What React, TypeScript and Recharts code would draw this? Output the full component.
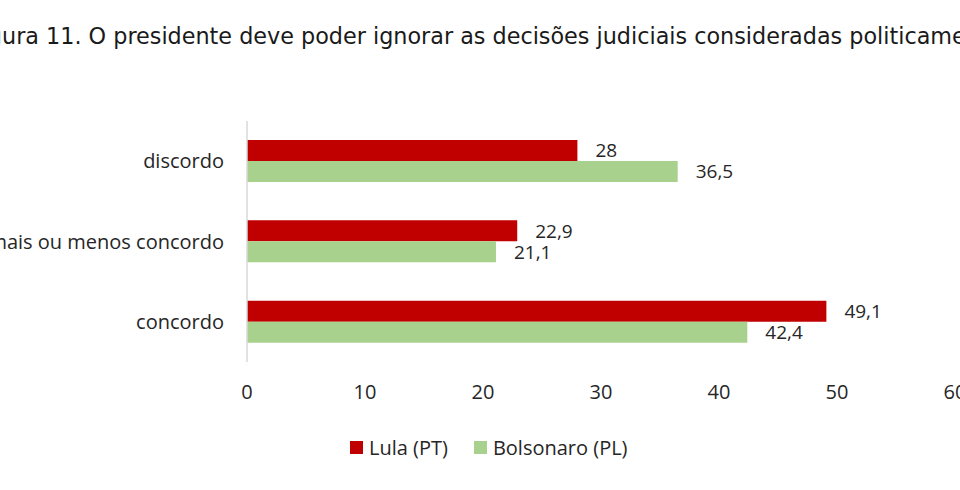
import React from 'react';
import { BarChart, Bar, XAxis, YAxis, LabelList, Legend } from 'recharts';

const categories = ['discordo', 'mais ou menos concordo', 'concordo'];
const lulaValues = [28, 22.9, 49.1];
const bolsonaroValues = [36.5, 21.1, 42.4];
const xTicks = [0, 10, 20, 30, 40, 50, 60];
const seriesNames = ['Lula (PT)', 'Bolsonaro (PL)'];
const titleHidden = 'Fig';
const titleVisible = 'ura 11. O presidente deve poder ignorar as decisões judiciais consideradas politicamente';

const RED = '#C00000';
const GREEN = '#A9D18E';
const TEXT = '#262626';

const data = categories.map((c, i) => ({
  category: c,
  lula: lulaValues[i],
  bolsonaro: bolsonaroValues[i],
}));

const fmt = (v: any) => String(v).replace('.', ',');

const LegendContent = () => (
  <div
    style={{
      display: 'flex',
      alignItems: 'center',
      height: 30,
      paddingLeft: 350,
      fontFamily: '"Open Sans", sans-serif',
      fontSize: 20,
      color: TEXT,
    }}
  >
    <span style={{ width: 13, height: 13, background: RED, display: 'inline-block' }} />
    <span style={{ marginLeft: 6 }}>{seriesNames[0]}</span>
    <span style={{ width: 13, height: 13, background: GREEN, display: 'inline-block', marginLeft: 26 }} />
    <span style={{ marginLeft: 6 }}>{seriesNames[1]}</span>
  </div>
);

export default function App() {
  return (
    <div style={{ position: 'fixed', top: 0, left: 0, width: 960, height: 490, overflow: 'hidden', background: '#fff' }}>
      <BarChart
        width={960}
        height={490}
        data={data}
        layout="vertical"
        margin={{ top: 121, right: 5, bottom: 28, left: 0 }}
        barGap={0}
      >
        <XAxis
          type="number"
          domain={[0, 60]}
          ticks={xTicks}
          axisLine={false}
          tickLine={false}
          tickSize={0}
          tickMargin={23}
          height={70}
          interval={0}
          tick={{ fill: TEXT, fontSize: 20, fontFamily: '"Open Sans", sans-serif' }}
        />
        <YAxis
          type="category"
          dataKey="category"
          width={247}
          axisLine={{ stroke: '#D9D9D9', strokeWidth: 1.5 }}
          tickLine={false}
          tickSize={0}
          tickMargin={23}
          interval={0}
          tick={{ fill: TEXT, fontSize: 20, fontFamily: '"Open Sans", sans-serif' }}
        />
        <Legend verticalAlign="bottom" height={30} wrapperStyle={{ left: 0, width: 960 }} content={<LegendContent />} />
        <Bar dataKey="lula" name={seriesNames[0]} fill={RED} barSize={21} isAnimationActive={false}>
          <LabelList
            dataKey="lula"
            position="right"
            offset={18}
            formatter={fmt}
            style={{ fill: TEXT, fontSize: 19, fontFamily: '"Open Sans", sans-serif' }}
          />
        </Bar>
        <Bar dataKey="bolsonaro" name={seriesNames[1]} fill={GREEN} barSize={21} isAnimationActive={false}>
          <LabelList
            dataKey="bolsonaro"
            position="right"
            offset={18}
            formatter={fmt}
            style={{ fill: TEXT, fontSize: 19, fontFamily: '"Open Sans", sans-serif' }}
          />
        </Bar>
      </BarChart>
      <svg width={960} height={60} style={{ position: 'absolute', top: 0, left: 0 }}>
        <text y={44} fontFamily='"DejaVu Sans", sans-serif' fontSize={22.3} fill="#1a1a1a">
          <tspan x={2} textAnchor="end">{titleHidden}</tspan>
          <tspan x={2} textAnchor="start">{titleVisible}</tspan>
        </text>
      </svg>
    </div>
  );
}
